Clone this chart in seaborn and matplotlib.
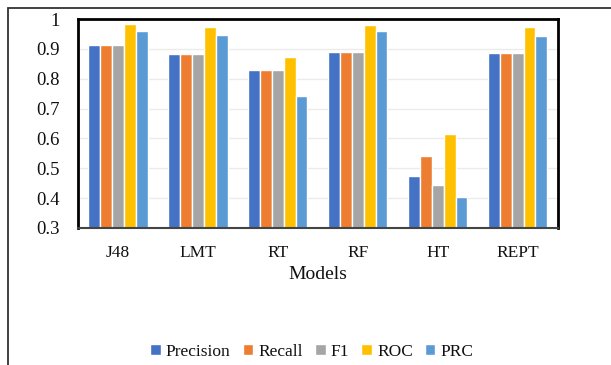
import matplotlib
matplotlib.use("Agg")
import matplotlib.pyplot as plt
import matplotlib.patches as mpatches
import seaborn as sns
import pandas as pd

models = ["J48", "LMT", "RT", "RF", "HT", "REPT"]
metrics = ["Precision", "Recall", "F1", "ROC", "PRC"]
precision = [0.912, 0.884, 0.829, 0.888, 0.475, 0.887]
recall = [0.912, 0.884, 0.829, 0.888, 0.542, 0.887]
f1 = [0.912, 0.884, 0.829, 0.888, 0.444, 0.887]
roc = [0.982, 0.973, 0.872, 0.980, 0.616, 0.974]
prc = [0.960, 0.946, 0.742, 0.959, 0.404, 0.943]
colors = ["#4472C4", "#ED7D31", "#A5A5A5", "#FFC000", "#5B9BD5"]
yticks = [0.3, 0.4, 0.5, 0.6, 0.7, 0.8, 0.9, 1.0]
ytick_labels = ["0.3", "0.4", "0.5", "0.6", "0.7", "0.8", "0.9", "1"]

rows = []
for name, vals in zip(metrics, [precision, recall, f1, roc, prc]):
    for m, v in zip(models, vals):
        rows.append({"Model": m, "Metric": name, "Value": v})
df = pd.DataFrame(rows)

sns.set_theme(style="white")
plt.rcParams["font.family"] = ["Liberation Serif", "DejaVu Serif"]

fig = plt.figure(figsize=(6.11, 3.65), dpi=100)
ax = fig.add_axes([78 / 611, 1 - 228 / 365, (557.7 - 78) / 611, (228 - 19) / 365])

sns.barplot(data=df, x="Model", y="Value", hue="Metric", order=models,
            hue_order=metrics, palette=colors, width=0.74, ax=ax,
            edgecolor="white", linewidth=1.0, saturation=1, errorbar=None)

ax.set_ylim(0.3, 1.0)
ax.set_xlim(-0.5, 5.5)
ax.set_yticks(yticks)
ax.set_yticklabels(ytick_labels)
ax.yaxis.grid(True, color="#EBEBEB", linewidth=1.0)
ax.set_axisbelow(True)
ax.tick_params(axis="x", length=0, labelsize=12.5, colors="#111111", pad=12)
ax.tick_params(axis="y", length=0, labelsize=13.5, colors="#111111", pad=13)
ax.set_ylabel("")
ax.set_xlabel("Models", fontsize=14, color="#111111", labelpad=4)
for s in ["left", "top", "right"]:
    ax.spines[s].set_visible(True)
    ax.spines[s].set_color("black")
    ax.spines[s].set_linewidth(2.0)
ax.spines["bottom"].set_color("#444444")
ax.spines["bottom"].set_linewidth(1.5)

leg = ax.legend(loc="center", bbox_to_anchor=(312 / 611, 1 - 352 / 365),
                bbox_transform=fig.transFigure, ncol=5, frameon=False,
                fontsize=12.5, handlelength=0.6, handleheight=0.6,
                handletextpad=0.3, columnspacing=0.7)
for t in leg.get_texts():
    t.set_color("#111111")

fig.patches.append(mpatches.Rectangle((8 / 611, -0.2), 2.0, (365 - 8) / 365 + 0.2,
                                      transform=fig.transFigure, fill=False,
                                      edgecolor="#333333", linewidth=1.3))

fig.savefig("out.png", dpi=100)
